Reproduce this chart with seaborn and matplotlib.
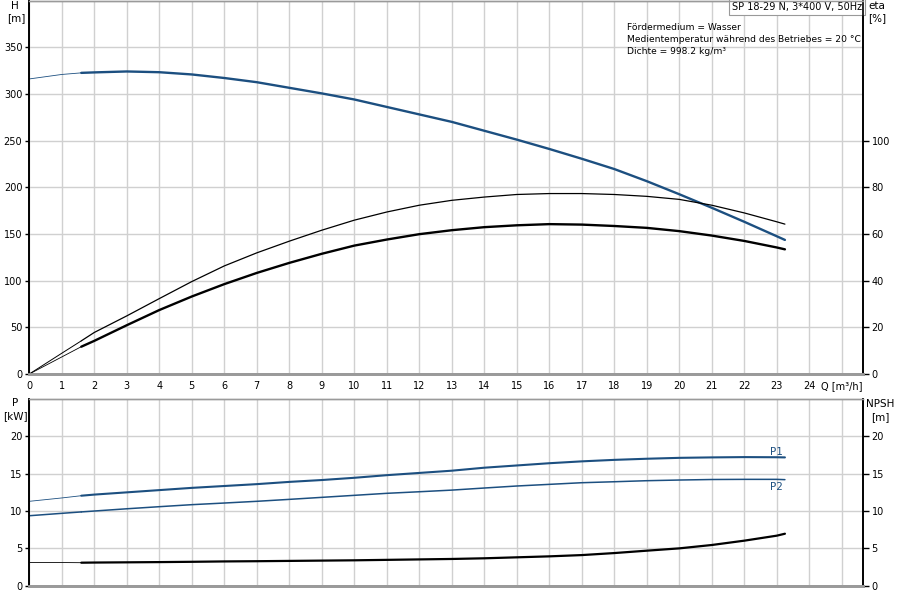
import pandas as pd
import seaborn as sns
import matplotlib.pyplot as plt

# flow rate Q [m3/h]
q = [0, 1, 1.6, 2, 3, 4, 5, 6, 7, 8, 9, 10, 11, 12, 13, 14, 15, 16, 17,
     18, 19, 20, 21, 22, 23, 23.25]
head = [316, 320.8, 322.5, 323, 324, 323.2, 320.8, 317, 312.5, 306.5, 300.5,
        294, 286, 278, 270, 260.5, 251, 241, 230.5, 219.5, 206.5, 192.5, 178,
        163, 147.5, 143.6]
eta_pump = [0, 8.9, 14.2, 17.8, 24.9, 32.3, 39.6, 46.3, 51.9, 56.9, 61.6,
            65.9, 69.4, 72.3, 74.4, 75.8, 76.9, 77.3, 77.3, 76.9, 76.1, 74.8,
            72.3, 69.0, 65.2, 64.2]
q_total = [0, 1.6, 2, 3, 4, 5, 6, 7, 8, 9, 10, 11, 12, 13, 14, 15, 16, 17,
           18, 19, 20, 21, 22, 23, 23.25]
eta_total = [0, 11.7, 14.2, 20.9, 27.4, 33.2, 38.5, 43.3, 47.6, 51.5, 55.0,
             57.6, 59.9, 61.6, 62.9, 63.7, 64.2, 64.0, 63.4, 62.6, 61.2, 59.3,
             57.0, 54.2, 53.4]
p1 = [11.3, 11.75, 12.05, 12.2, 12.5, 12.8, 13.1, 13.35, 13.6, 13.9, 14.15,
      14.45, 14.8, 15.1, 15.4, 15.8, 16.1, 16.4, 16.65, 16.85, 17.0, 17.12,
      17.18, 17.22, 17.2, 17.18]
p2 = [9.37, 9.69, 9.88, 10.0, 10.3, 10.58, 10.85, 11.07, 11.3, 11.56, 11.83,
      12.1, 12.37, 12.58, 12.8, 13.08, 13.35, 13.57, 13.79, 13.92, 14.06,
      14.15, 14.22, 14.24, 14.24, 14.2]
npsh = [3.1, 3.1, 3.08, 3.1, 3.13, 3.16, 3.2, 3.25, 3.28, 3.32, 3.36, 3.4,
        3.46, 3.52, 3.58, 3.67, 3.8, 3.93, 4.1, 4.37, 4.69, 5.0, 5.45, 6.03,
        6.7, 6.96]

x_labels = [str(i) for i in range(25)] + ["Q [m³/h]"]
h_ticks = list(range(0, 351, 50))
eta_ticks = list(range(0, 101, 20))
p_ticks = list(range(0, 21, 5))

BLUE = "#1c4f80"
GRID = "#d0d0d0"
Q_START = 1.6
FS = 7


def draw_curve(ax, q_vals, y_vals, color, lw, thin_lw=0.6):
    df = pd.DataFrame({"Q": q_vals, "val": y_vals})
    thin = df[df["Q"] <= Q_START]
    thick = df[df["Q"] >= Q_START]
    sns.lineplot(data=thin, x="Q", y="val", ax=ax, color=color,
                 linewidth=thin_lw, estimator=None, sort=False)
    sns.lineplot(data=thick, x="Q", y="val", ax=ax, color=color,
                 linewidth=lw, estimator=None, sort=False)
    ax.set_xlabel("")
    ax.set_ylabel("")


def style_frame(ax):
    for side in ("left", "right"):
        ax.spines[side].set_color("black")
        ax.spines[side].set_linewidth(1.2)
    for side in ("top", "bottom"):
        ax.spines[side].set_color("#9a9a9a")
    ax.spines["bottom"].set_linewidth(2)
    ax.spines["top"].set_linewidth(1)


def main():
    fig = plt.figure(figsize=(9, 6), dpi=100)
    left, width = 29.3 / 900, 834 / 900
    x_max = 834 / 32.5

    # upper chart: head + efficiency
    ax_h = fig.add_axes([left, 226 / 600, width, 373.5 / 600])
    ax_eta = ax_h.twinx()
    draw_curve(ax_h, q, head, BLUE, 1.7)
    draw_curve(ax_eta, q, eta_pump, "black", 0.9, thin_lw=0.7)
    draw_curve(ax_eta, q_total, eta_total, "black", 1.7)

    ax_h.set_xlim(0, x_max)
    ax_h.set_ylim(0, 400)
    ax_eta.set_ylim(0, 160)
    ax_h.set_xticks(range(26))
    ax_h.set_xticklabels(x_labels)
    ax_h.set_yticks(h_ticks)
    ax_eta.set_yticks(eta_ticks)
    ax_h.grid(True, color=GRID, linewidth=1)
    ax_h.set_axisbelow(True)
    ax_h.tick_params(axis="both", direction="out", length=3, width=1,
                     labelsize=FS, pad=2, colors="black")
    ax_eta.tick_params(axis="y", direction="out", length=4, width=1,
                       labelsize=FS, pad=2, colors="black")
    style_frame(ax_h)
    style_frame(ax_eta)

    # lower chart: power + NPSH
    ax_p = fig.add_axes([left, 14.3 / 600, width, 186.7 / 600])
    ax_npsh = ax_p.twinx()
    draw_curve(ax_p, q, p1, BLUE, 1.5)
    draw_curve(ax_p, q, p2, BLUE, 1.1, thin_lw=1.1)
    draw_curve(ax_npsh, q, npsh, "black", 1.6)
    ax_p.set_xlim(0, x_max)
    ax_p.set_ylim(0, 25)
    ax_npsh.set_ylim(0, 25)
    ax_p.set_xticks(range(26))
    ax_p.set_xticklabels([])
    ax_p.set_yticks(p_ticks)
    ax_npsh.set_yticks(p_ticks)
    ax_p.grid(True, color=GRID, linewidth=1)
    ax_p.set_axisbelow(True)
    ax_p.tick_params(axis="x", length=0)
    ax_p.tick_params(axis="y", direction="out", length=3, width=1,
                     labelsize=FS, pad=2, colors="black")
    ax_npsh.tick_params(axis="y", direction="out", length=4, width=1,
                        labelsize=FS, pad=2, colors="black")
    style_frame(ax_p)
    style_frame(ax_npsh)

    ax_p.text(23.0, 17.9, "P1", color=BLUE, fontsize=FS + 0.5,
              ha="center", va="center")
    ax_p.text(23.0, 13.2, "P2", color=BLUE, fontsize=FS + 0.5,
              ha="center", va="center")

    # axis titles
    def px(x, y, s, **kw):
        fig.text(x / 900, 1 - y / 600, s, fontsize=FS + 0.5, ha="center",
                 va="center", color="black", **kw)

    px(15, 6, "H")
    px(16, 18, "[m]")
    px(877, 6, "eta")
    px(877, 18, "[%]")
    px(15, 403, "P")
    px(15, 416, "[kW]")
    px(880, 404, "NPSH")
    px(880, 417, "[m]")

    ax_h.text(0.9985, 0.997, "SP 18-29 N, 3*400 V, 50Hz",
              transform=ax_h.transAxes, ha="right", va="top", fontsize=FS,
              color="black",
              bbox=dict(boxstyle="square,pad=0.3", fc="white", ec="#999999",
                        lw=0.8))
    info = ["Fördermedium = Wasser",
            "Medientemperatur während des Betriebes = 20 °C",
            "Dichte = 998.2 kg/m³"]
    for i, line in enumerate(info):
        fig.text(627 / 900, 1 - (27 + i * 12.5) / 600, line, fontsize=6.6,
                 ha="left", va="center", color="black")

    fig.savefig("out.png", dpi=100)


if __name__ == "__main__":
    sns.set_style("white")
    plt.rcParams["font.family"] = ["DejaVu Sans"]
    main()
